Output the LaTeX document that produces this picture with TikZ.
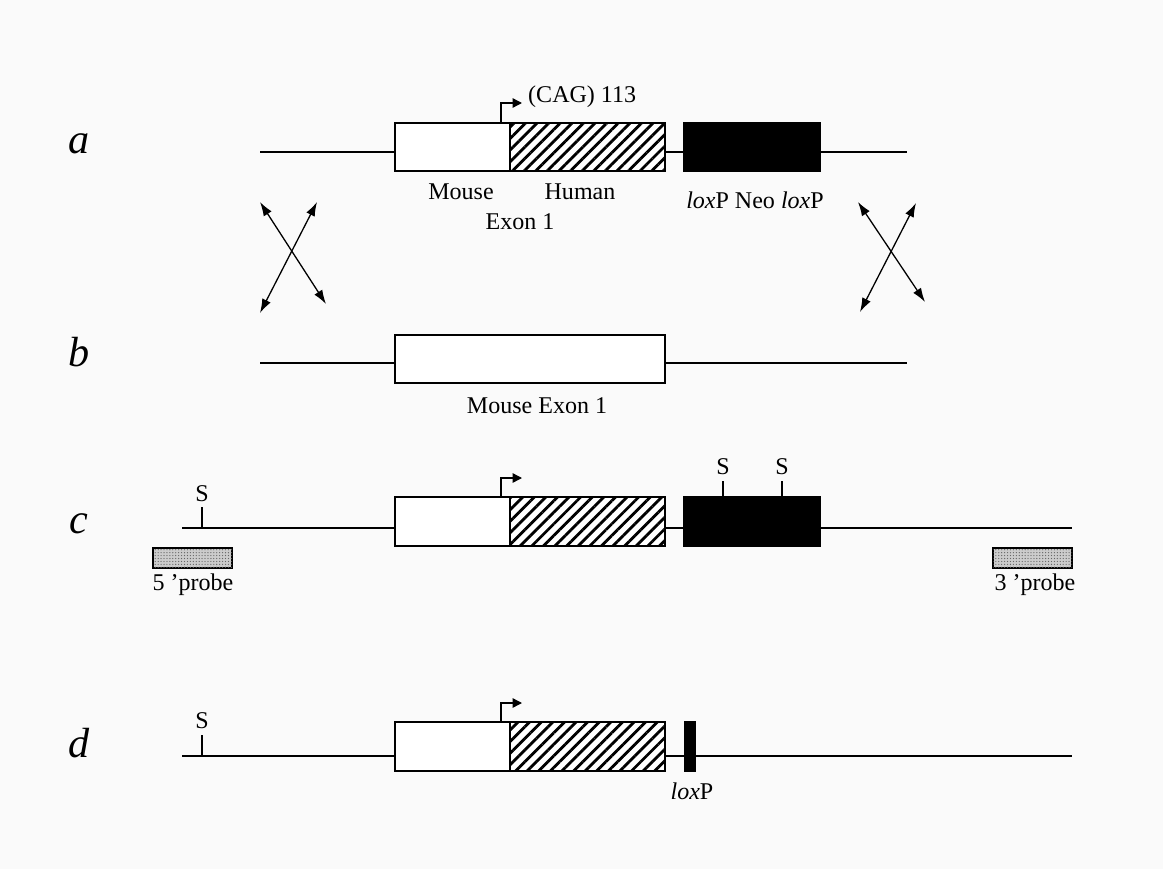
\documentclass[tikz,border=0pt]{standalone}
\usepackage{fontspec}
\setmainfont{Liberation Serif}
\usetikzlibrary{arrows.meta,patterns.meta}

\tikzset{
  dna/.style={line width=1.3pt},
  mousebox/.style={draw, line width=1.3pt, fill=white},
  humanbox/.style={draw, line width=1.3pt, fill=white,
    postaction={pattern={Lines[angle=45,distance=7pt,line width=2.4pt]}}},
  neobox/.style={draw, line width=1.3pt, fill=black},
  probebox/.style={draw, line width=1pt, fill=gray!40,
    postaction={pattern={Dots[distance=2.5pt,radius=0.55pt]}, pattern color=gray!80!black}},
  promoter/.style={line width=1.2pt, -{Triangle[length=8pt,width=8pt]}},
  swap/.style={line width=1.1pt, {Latex[length=12pt,width=8pt]}-{Latex[length=12pt,width=8pt]}},
  rowlabel/.style={font=\fontsize{36}{38}\selectfont\itshape, anchor=base},
  txt/.style={font=\fontsize{20.5}{22}\selectfont, inner sep=0pt},
  site/.style={line width=1.1pt}
}

\begin{document}
\begin{tikzpicture}[x=0.03cm, y=-0.03cm]
  \fill[white!98!black] (0,0) rectangle (1163,869);
  \useasboundingbox (0,0) rectangle (1163,869);

  % row labels
  \node[rowlabel] (la) at (79,153) {a};
  \node[rowlabel] (lb) at (79,366) {b};
  \node[rowlabel] (lc) at (79,533) {c};
  \node[rowlabel] (ld) at (79,757) {d};

  % a: targeting construct
  \coordinate (a0) at (260,152);
  \coordinate (a1) at (907,152);
  \draw[dna] (a0) -- (a1);
  \draw[mousebox] (395,123) rectangle (510,171);
  \draw[humanbox] (510,123) rectangle (665,171);
  \draw[neobox] (684,123) rectangle (820,171);
  \coordinate (pa) at (501,123);
  \coordinate (pa1) at (501,103);
  \coordinate (pa2) at (522,103);
  \draw[promoter] (pa) -- (pa1) -- (pa2);
  \node[txt, anchor=west] (cag) at (528,97) {(CAG) 113};
  \node[txt] (ms) at (461,192) {Mouse};
  \node[txt] (hu) at (580,192) {Human};
  \node[txt] (ex) at (520,222) {Exon 1};
  \node[txt] (neo) at (755,200) {\textit{lox}P Neo \textit{lox}P};

  % crossing over
  \coordinate (x1) at (260,202);
  \coordinate (x2) at (326,304);
  \coordinate (x3) at (317,202);
  \coordinate (x4) at (260,313);
  \draw[swap] (x1) -- (x2);
  \draw[swap] (x3) -- (x4);
  \coordinate (y1) at (858,202);
  \coordinate (y2) at (925,302);
  \coordinate (y3) at (916,203);
  \coordinate (y4) at (860,312);
  \draw[swap] (y1) -- (y2);
  \draw[swap] (y3) -- (y4);

  % b: wild type
  \coordinate (b0) at (260,363);
  \coordinate (b1) at (907,363);
  \draw[dna] (b0) -- (b1);
  \draw[mousebox] (395,335) rectangle (665,383);
  \node[txt] (mex) at (537,406) {Mouse Exon 1};

  % c: targeted allele
  \coordinate (c0) at (182,528);
  \coordinate (c1) at (1072,528);
  \draw[dna] (c0) -- (c1);
  \draw[mousebox] (395,497) rectangle (510,546);
  \draw[humanbox] (510,497) rectangle (665,546);
  \draw[neobox] (684,497) rectangle (820,546);
  \coordinate (pc) at (501,497);
  \coordinate (pc1) at (501,478);
  \coordinate (pc2) at (522,478);
  \draw[promoter] (pc) -- (pc1) -- (pc2);
  \coordinate (sc0) at (202,528);
  \node[txt] (sc) at (202,494) {S};
  \draw[site] (sc0) -- ++(0,-21);
  \coordinate (sn1) at (723,497);
  \coordinate (sn2) at (782,497);
  \node[txt] (s1) at (723,467) {S};
  \node[txt] (s2) at (782,467) {S};
  \draw[site] (sn1) -- ++(0,-16);
  \draw[site] (sn2) -- ++(0,-16);
  \draw[probebox] (153,548) rectangle (232,568);
  \draw[probebox] (993,548) rectangle (1072,568);
  \node[txt] (p5) at (193,585) {5 ’probe};
  \node[txt] (p3) at (1035,585) {3 ’probe};

  % d: after Cre excision
  \coordinate (d0) at (182,756);
  \coordinate (d1) at (1072,756);
  \draw[dna] (d0) -- (d1);
  \draw[mousebox] (395,722) rectangle (510,771);
  \draw[humanbox] (510,722) rectangle (665,771);
  \draw[neobox] (685,722) rectangle (695,771);
  \coordinate (pd) at (501,722);
  \coordinate (pd1) at (501,703);
  \coordinate (pd2) at (522,703);
  \draw[promoter] (pd) -- (pd1) -- (pd2);
  \coordinate (sd0) at (202,756);
  \node[txt] (sd) at (202,721) {S};
  \draw[site] (sd0) -- ++(0,-21);
  \node[txt] (lox) at (692,791) {\textit{lox}P};
\end{tikzpicture}
\end{document}
